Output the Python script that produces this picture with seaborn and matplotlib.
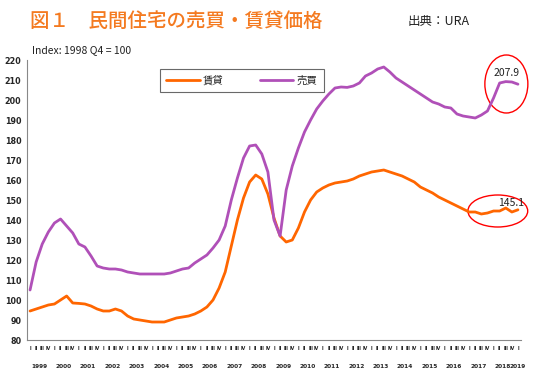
import seaborn as sns
import matplotlib.pyplot as plt
import pandas as pd
import numpy as np
from matplotlib.patches import Ellipse
from matplotlib.transforms import blended_transform_factory

# quarterly index, 1999 Q1 .. 2019 Q1 (1998 Q4 = 100)
years = [str(y) for y in range(1999, 2020)]
quarters = ["I", "II", "III", "IV"]

rent = [94.5, 95.5, 96.5, 97.5, 98, 100, 102, 98.5, 98.3, 98, 97, 95.5,
        94.5, 94.5, 95.5, 94.5, 92, 90.5, 90, 89.5, 89, 89, 89, 90,
        91, 91.5, 92, 93, 94.5, 96.5, 100, 106, 114, 127, 140, 151,
        159, 162.5, 160.5, 153, 141, 132, 129, 130, 136, 144, 150, 154,
        156, 157.5, 158.5, 159, 159.5, 160.5, 162, 163, 164, 164.5, 165, 164,
        163, 162, 160.5, 159, 156.5, 155, 153.5, 151.5, 150, 148.5, 147, 145.5,
        144, 144, 143, 143.5, 144.5, 144.5, 146, 144, 145.1]
sale = [105, 119, 128, 134, 138.5, 140.5, 137, 133.5, 128, 126.5, 122, 117,
        116, 115.5, 115.5, 115, 114, 113.5, 113, 113, 113, 113, 113, 113.5,
        114.5, 115.5, 116, 118.5, 120.5, 122.5, 126, 130, 137, 150, 161, 171,
        177, 177.5, 173, 164, 140, 132, 155, 167, 176, 184, 190, 195.5,
        199.5, 203, 206, 206.5, 206.3, 207, 208.5, 212, 213.5, 215.5, 216.5, 214,
        211, 209, 207, 205, 203, 201, 199, 198, 196.5, 196, 193, 192,
        191.5, 191, 192.5, 194.5, 201, 208.5, 209.2, 209, 207.9]

df = pd.DataFrame({"q": np.arange(len(rent)), "賃貸": rent, "売買": sale})
long = df.melt(id_vars="q", var_name="kind", value_name="index")

sns.set_style("white")
plt.rcParams['font.family'] = ['Noto Sans CJK JP', 'DejaVu Sans']

fig = plt.figure(figsize=(5.38, 3.81), dpi=100)
ax = fig.add_axes([27 / 538, 1 - 340 / 381, 494 / 538, 280 / 381])

sns.lineplot(data=long, x="q", y="index", hue="kind", ax=ax,
             palette={"賃貸": "#FF6600", "売買": "#B050B8"}, linewidth=2.0)

ax.set_xlim(-0.5, 80.5)
ax.set_ylim(80, 220)
ax.set_yticks(range(80, 221, 10))
ax.set_xlabel("")
ax.set_ylabel("")
for s in ["top", "right"]:
    ax.spines[s].set_visible(False)
for s in ["left", "bottom"]:
    ax.spines[s].set_color("#888888")
    ax.spines[s].set_linewidth(0.8)
ax.tick_params(axis="y", length=2, width=0.6, color="#888888", pad=2, labelsize=5.8)
for t in ax.get_yticklabels():
    t.set_fontweight("bold")
    t.set_family("DejaVu Sans")

# year separators as long major ticks, quarter numerals as minor tick labels
ax.set_xticks(np.arange(-0.5, 81, 4).tolist() + [80.5])
ax.set_xticklabels([])
ax.tick_params(axis="x", which="major", length=24, width=0.6, color="#555555", direction="out")
ax.set_xticks(np.arange(0, 81), minor=True)
ax.set_xticklabels([quarters[i % 4] for i in range(81)], minor=True,
                   fontsize=3.4, fontweight="bold", family="DejaVu Sans")
ax.tick_params(axis="x", which="minor", length=0, pad=4)

tr = blended_transform_factory(ax.transData, ax.transAxes)
for k, y in enumerate(years):
    xc = 4 * k + 1.5 if k < 20 else 80
    ax.text(xc, -0.095, y, transform=tr, ha="center", va="center",
            fontsize=4.2, fontweight="bold", family="DejaVu Sans", clip_on=False)

leg = ax.legend(loc="upper center", bbox_to_anchor=(0.435, 0.985), ncol=2,
                frameon=True, fontsize=7.5, handlelength=3.2, columnspacing=3.5,
                borderpad=0.6, fancybox=False, handletextpad=0.3)
leg.get_frame().set_edgecolor("#444444")
leg.get_frame().set_linewidth(0.8)

ax.text(78.2, 211, "207.9", ha="center", va="bottom", fontsize=7.5, color="#222222")
ax.text(78.9, 146, "145.1", ha="center", va="bottom", fontsize=7.5, color="#222222")
ax.add_patch(Ellipse((78.1, 208), 7.05, 29, fill=False, edgecolor="red",
                     linewidth=1.0, clip_on=False))
ax.add_patch(Ellipse((76.7, 144.5), 9.8, 16, fill=False, edgecolor="red",
                     linewidth=1.0, clip_on=False))

fig.text(30 / 538, 1 - 21 / 381, "図１　民間住宅の売買・賃貸価格", color="#F47A20",
         fontsize=14, fontweight="medium", va="center", ha="left")
fig.text(408 / 538, 1 - 22 / 381, "出典：URA", color="#222222",
         fontsize=9, va="center", ha="left")
fig.text(32 / 538, 1 - 50 / 381, "Index: 1998 Q4 = 100", color="#222222",
         fontsize=7.5, va="center", ha="left")

fig.savefig("out.png", dpi=100)
